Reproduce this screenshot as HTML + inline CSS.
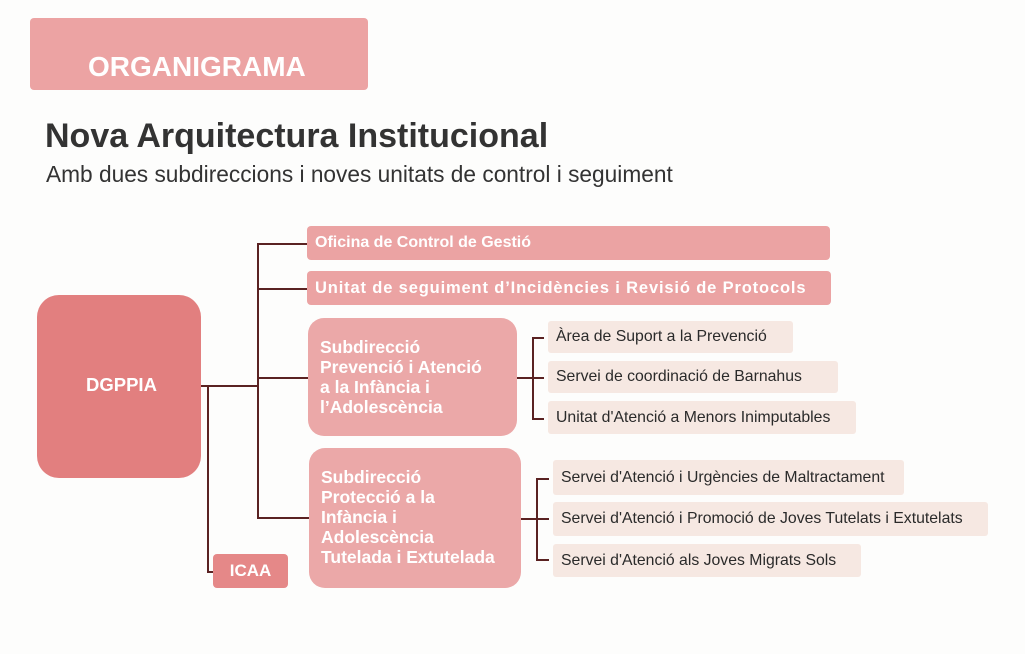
<!DOCTYPE html>
<html><head><meta charset="utf-8"><style>
body{margin:0;width:1025px;height:654px;background:#fdfdfc;position:relative;overflow:hidden;font-family:"Liberation Sans",Arial,sans-serif}
.a{position:absolute;box-sizing:border-box;white-space:nowrap}
.w{color:#fff;font-weight:bold}
.pk{background:#eba3a3}
.lt{background:#f6e8e2;color:#2a2a2a;font-size:15.8px;padding-left:8px;line-height:33px;border-radius:3px}
.l{position:absolute;background:#5a2222}
</style></head><body>
<div class="a w" style="left:30px;top:18px;width:338px;height:72px;background:#eca3a3;border-radius:4px;font-size:28px;padding:34px 0 0 58px;line-height:30px">ORGANIGRAMA</div>
<div class="a" style="left:45px;top:117px;font-size:34px;font-weight:bold;color:#333">Nova Arquitectura Institucional</div>
<div class="a" style="left:46px;top:161px;font-size:22.7px;color:#333">Amb dues subdireccions i noves unitats de control i seguiment</div>

<div class="a w" style="left:37px;top:295px;width:164px;height:183px;background:#e27f7f;border-radius:22px;font-size:18.5px;padding-top:79px;padding-left:49px">DGPPIA</div>
<div class="a w pk" style="left:307px;top:226px;width:523px;height:34px;border-radius:4px;font-size:16px;line-height:33px;padding-left:8px">Oficina de Control de Gestió</div>
<div class="a w pk" style="left:307px;top:271px;width:524px;height:34px;border-radius:4px;font-size:16.5px;line-height:34px;padding-left:8px;letter-spacing:0.85px">Unitat de seguiment d’Incidències i Revisió de Protocols</div>
<div class="a w" style="left:308px;top:318px;width:209px;height:118px;background:#eba8a8;border-radius:16px;font-size:17.5px;line-height:20px;padding:19px 0 0 12px">Subdirecció<br>Prevenció i Atenció<br>a la Infància i<br>l’Adolescència</div>
<div class="a w" style="left:309px;top:448px;width:212px;height:140px;background:#eba8a8;border-radius:16px;font-size:17.5px;line-height:20px;padding:19px 0 0 12px">Subdirecció<br>Protecció a la<br>Infància i<br>Adolescència<br>Tutelada i Extutelada</div>
<div class="a w" style="left:213px;top:554px;width:75px;height:34px;background:#e58888;border-radius:4px;font-size:17px;line-height:34px;text-align:center">ICAA</div>

<div class="l" style="left:201px;top:385px;width:57px;height:1.5px"></div>
<div class="l" style="left:257px;top:243px;width:1.5px;height:275px"></div>
<div class="l" style="left:257px;top:243px;width:50px;height:1.5px"></div>
<div class="l" style="left:257px;top:288px;width:50px;height:1.5px"></div>
<div class="l" style="left:257px;top:377px;width:51px;height:1.5px"></div>
<div class="l" style="left:257px;top:517px;width:52px;height:1.5px"></div>
<div class="l" style="left:207px;top:385px;width:1.5px;height:187px"></div>
<div class="l" style="left:207px;top:571px;width:6px;height:1.5px"></div>

<div class="l" style="left:517px;top:377px;width:16px;height:1.5px"></div>
<div class="l" style="left:532px;top:337px;width:1.5px;height:82px"></div>
<div class="l" style="left:532px;top:337px;width:12px;height:1.5px"></div>
<div class="l" style="left:532px;top:377px;width:12px;height:1.5px"></div>
<div class="l" style="left:532px;top:418px;width:12px;height:1.5px"></div>
<div class="a lt" style="left:548px;top:321px;width:245px;height:32px;line-height:32px">Àrea de Suport a la Prevenció</div>
<div class="a lt" style="left:548px;top:361px;width:290px;height:32px;line-height:32px">Servei de coordinació de Barnahus</div>
<div class="a lt" style="left:548px;top:401px;width:308px;height:33px">Unitat d'Atenció a Menors Inimputables</div>

<div class="l" style="left:521px;top:518px;width:16px;height:1.5px"></div>
<div class="l" style="left:536px;top:478px;width:1.5px;height:82px"></div>
<div class="l" style="left:536px;top:478px;width:13px;height:1.5px"></div>
<div class="l" style="left:536px;top:518px;width:13px;height:1.5px"></div>
<div class="l" style="left:536px;top:559px;width:13px;height:1.5px"></div>
<div class="a lt" style="left:553px;top:460px;width:351px;height:35px;line-height:35px">Servei d'Atenció i Urgències de Maltractament</div>
<div class="a lt" style="left:553px;top:502px;width:435px;height:34px;line-height:34px">Servei d'Atenció i Promoció de Joves Tutelats i Extutelats</div>
<div class="a lt" style="left:553px;top:544px;width:308px;height:33px;line-height:33px">Servei d'Atenció als Joves Migrats Sols</div>
</body></html>
